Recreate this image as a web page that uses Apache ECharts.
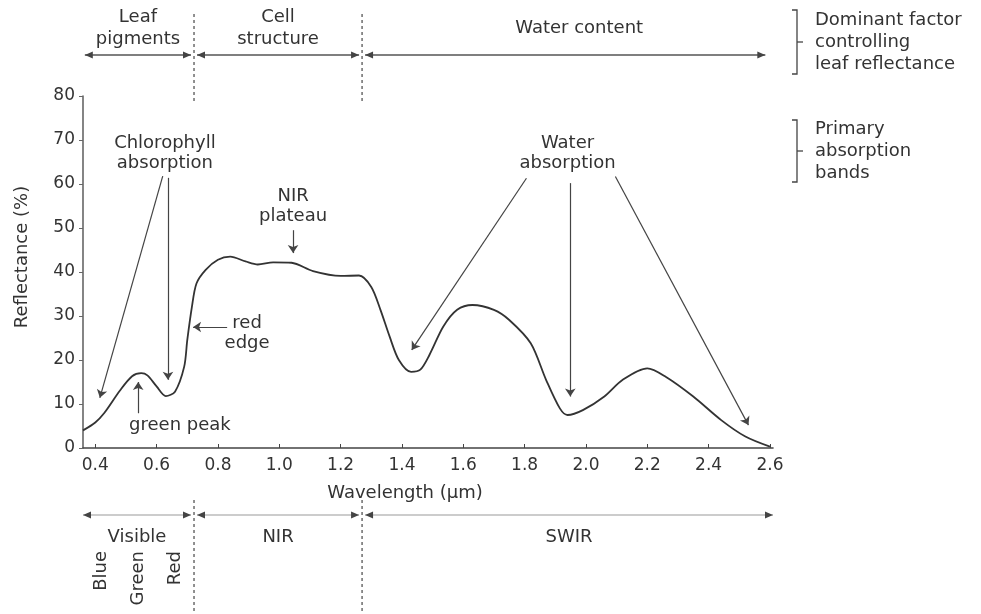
<!DOCTYPE html>
<html>
<head>
<meta charset="utf-8">
<script src="https://cdn.jsdelivr.net/npm/echarts@6/dist/echarts.min.js"></script>
<style>
  html, body { margin: 0; padding: 0; background: #fff; }
  #chart { width: 981px; height: 614px; }
</style>
</head>
<body>
<div id="chart"></div>
<script>
// Typical green-leaf reflectance spectrum (wavelength in µm, reflectance in %)
const wavelength = [
  0.36, 0.40, 0.43, 0.48, 0.52, 0.55, 0.57, 0.60, 0.63, 0.66,
  0.69, 0.70, 0.715, 0.73, 0.76, 0.80, 0.84, 0.89, 0.93, 0.98,
  1.04, 1.11, 1.20, 1.26, 1.30, 1.33, 1.36, 1.39, 1.43, 1.46,
  1.49, 1.535, 1.58, 1.63, 1.70, 1.75, 1.82, 1.87, 1.915, 1.94,
  1.99, 2.06, 2.12, 2.20, 2.26, 2.35, 2.44, 2.52, 2.60
];
const reflectance = [
  4.0, 5.8, 8.0, 13.0, 16.3, 17.0, 16.5, 14.0, 11.8, 12.8,
  18.5, 24.5, 32.0, 37.4, 40.5, 42.8, 43.5, 42.4, 41.7, 42.2,
  42.1, 40.2, 39.1, 39.2, 36.6, 31.4, 25.3, 20.0, 17.3, 17.8,
  21.2, 27.6, 31.4, 32.5, 31.4, 29.1, 23.8, 15.5, 9.0, 7.5,
  8.6, 11.7, 15.5, 18.1, 16.2, 11.7, 6.4, 2.6, 0.3
];

const xTickValues = [0.4, 0.6, 0.8, 1.0, 1.2, 1.4, 1.6, 1.8, 2.0, 2.2, 2.4, 2.6];

// Callout leader lines: [x1, y1, x2, y2] in data units, arrow at the second point
const calloutArrows = [
  [0.62, 61.8, 0.415, 11.4],
  [0.637, 61.4, 0.637, 15.5],
  [1.045, 49.5, 1.045, 44.3],
  [0.83, 27.5, 0.719, 27.5],
  [0.54, 7.9, 0.54, 15.0],
  [1.806, 61.3, 1.432, 22.3],
  [1.949, 60.2, 1.949, 11.7],
  [2.096, 61.7, 2.53, 5.2]
];
// Callout texts: [x, y, text]
const calloutTexts = [
  [0.627, 67.0, 'Chlorophyll\nabsorption'],
  [1.045, 55.0, 'NIR\nplateau'],
  [0.895, 26.0, 'red\nedge'],
  [0.676, 5.2, 'green peak'],
  [1.94, 67.0, 'Water\nabsorption']
];

// Spectral regions above and below the plot
const factorBands = [
  { label: 'Leaf\npigments', from: 0.366, to: 0.722 },
  { label: 'Cell\nstructure', from: 0.722, to: 1.27 },
  { label: 'Water content', from: 1.27, to: 2.585 }
];
const spectrumBands = [
  { label: 'Visible', from: 0.36, to: 0.722 },
  { label: 'NIR', from: 0.722, to: 1.27 },
  { label: 'SWIR', from: 1.27, to: 2.61 }
];
const visibleColours = ['Blue', 'Green', 'Red'];
const legendNotes = [
  { text: 'Dominant factor\ncontrolling\nleaf reflectance', top: 10, bottom: 74 },
  { text: 'Primary\nabsorption\nbands', top: 120, bottom: 182 }
];

const FONT = '"DejaVu Sans", Verdana, sans-serif';
const INK = '#333';
const LINE = '#444';

const chart = echarts.init(document.getElementById('chart'), null, { renderer: 'canvas' });

chart.setOption({
  animation: false,
  backgroundColor: '#fff',
  grid: { left: 83, top: 96, right: 208, bottom: 166 },
  xAxis: {
    type: 'value',
    min: 0.36,
    max: 2.61,
    name: 'Wavelength (µm)',
    nameLocation: 'middle',
    nameGap: 36,
    nameTextStyle: { fontFamily: FONT, fontSize: 18, color: INK, padding: [0, 46, 0, 0] },
    axisLine: { show: true, lineStyle: { color: LINE, width: 1.6 } },
    axisTick: { show: true, inside: true, length: 4, customValues: xTickValues, lineStyle: { color: LINE } },
    axisLabel: {
      customValues: xTickValues,
      formatter: v => v.toFixed(1),
      fontFamily: FONT, fontSize: 17, color: INK, margin: 9
    },
    splitLine: { show: false }
  },
  yAxis: {
    type: 'value',
    min: 0,
    max: 80,
    interval: 10,
    name: 'Reflectance (%)',
    nameLocation: 'middle',
    nameRotate: 90,
    nameGap: 52,
    nameTextStyle: { fontFamily: FONT, fontSize: 18, color: INK, padding: [0, 0, 0, 30] },
    axisLine: { show: true, lineStyle: { color: '#666', width: 1.6 } },
    axisTick: { show: true, length: 4, lineStyle: { color: '#666' } },
    axisLabel: { fontFamily: FONT, fontSize: 17, color: INK, margin: 8 },
    splitLine: { show: false }
  },
  series: [{
    type: 'line',
    data: wavelength.map((w, i) => [w, reflectance[i]]),
    smooth: 0.3,
    showSymbol: false,
    symbol: 'none',
    lineStyle: { color: '#333', width: 1.8 },
    markLine: {
      silent: true,
      symbol: ['none', 'arrow'],
      symbolSize: 8,
      label: { show: false },
      lineStyle: { color: LINE, width: 1.2, type: 'solid' },
      data: calloutArrows.map(a => [{ coord: [a[0], a[1]] }, { coord: [a[2], a[3]] }])
    },
    markPoint: {
      silent: true,
      symbol: 'circle',
      symbolSize: 0,
      label: {
        show: true, position: 'inside', formatter: p => p.name,
        fontFamily: FONT, fontSize: 18, color: INK, lineHeight: 20, align: 'center'
      },
      data: calloutTexts.map(t => ({ coord: [t[0], t[1]], name: t[2] }))
    }
  }]
});

// Region arrows, separators and side notes, positioned from the x axis scale
function px(v) { return chart.convertToPixel({ xAxisIndex: 0 }, v); }

function arrowHead(x, y, dir) {
  const s = dir === 'left' ? 1 : -1;
  return {
    type: 'polygon',
    shape: { points: [[x, y], [x + s * 8, y - 3.5], [x + s * 8, y + 3.5]] },
    style: { fill: LINE },
    silent: true
  };
}

function bandGraphics(bands, lineY, labelY, sepTop, sepBottom, lineColor, labelShift) {
  const out = [];
  bands.forEach((b, i) => {
    const x1 = px(b.from) + (i === 0 ? 0 : 3);
    const x2 = px(b.to) - (i === bands.length - 1 ? 0 : 3);
    out.push({
      type: 'line', silent: true,
      shape: { x1: x1, y1: lineY, x2: x2, y2: lineY },
      style: { stroke: lineColor, lineWidth: 1.4 }
    });
    out.push(arrowHead(x1, lineY, 'left'));
    out.push(arrowHead(x2, lineY, 'right'));
    out.push({
      type: 'text', silent: true,
      x: (x1 + x2) / 2 + (labelShift[i] || 0), y: labelY,
      style: {
        text: b.label, fill: INK, font: '18px ' + FONT,
        align: 'center', verticalAlign: 'middle', lineHeight: 22
      }
    });
    if (i > 0) {
      const sx = px(b.from);
      out.push({
        type: 'line', silent: true,
        shape: { x1: sx, y1: sepTop, x2: sx, y2: sepBottom },
        style: { stroke: '#555', lineWidth: 1.3, lineDash: [3, 3] }
      });
    }
  });
  return out;
}

const graphics = [];
graphics.push(...bandGraphics(factorBands, 55, 28, 14, 104, '#555', [0, 0, 14]));
graphics.push(...bandGraphics(spectrumBands, 515, 537, 500, 614, '#bbb', [0, 0, 0]));

// Blue / Green / Red labels under the visible band, reading upwards
const vx1 = px(spectrumBands[0].from), vx2 = px(spectrumBands[0].to);
visibleColours.forEach((c, i) => {
  graphics.push({
    type: 'text', silent: true,
    x: vx1 + (vx2 - vx1) * (i + 0.5) / visibleColours.length,
    y: 551,
    rotation: Math.PI / 2,
    style: { text: c, fill: INK, font: '18px ' + FONT, align: 'right', verticalAlign: 'middle' }
  });
});

// Bracketed notes on the right
legendNotes.forEach(n => {
  const bx = 797, mid = (n.top + n.bottom) / 2;
  graphics.push({
    type: 'polyline', silent: true,
    shape: { points: [[bx - 5, n.top], [bx, n.top], [bx, n.bottom], [bx - 5, n.bottom]] },
    style: { stroke: LINE, lineWidth: 1.3, fill: null }
  });
  graphics.push({
    type: 'line', silent: true,
    shape: { x1: bx, y1: mid, x2: bx + 6, y2: mid },
    style: { stroke: LINE, lineWidth: 1.3 }
  });
  graphics.push({
    type: 'text', silent: true,
    x: 815, y: mid,
    style: {
      text: n.text, fill: INK, font: '18px ' + FONT,
      align: 'left', verticalAlign: 'middle', lineHeight: 22
    }
  });
});

chart.setOption({ graphic: graphics });
</script>
</body>
</html>
